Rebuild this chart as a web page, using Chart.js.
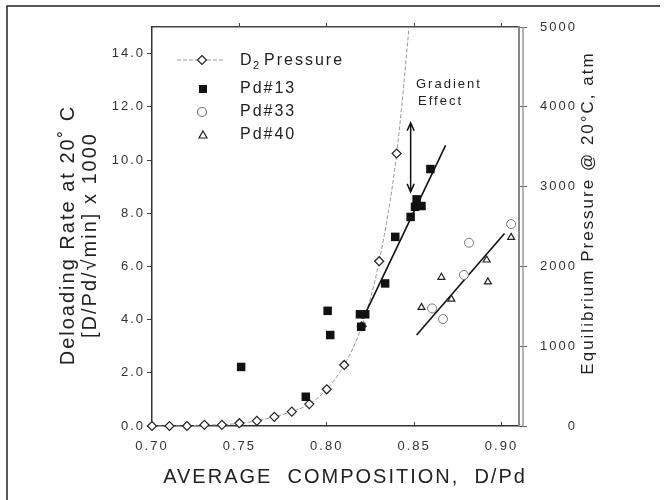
<!DOCTYPE html>
<html lang="en">

<head>
    <meta charset="UTF-8">
    <title>Deloading rate vs composition</title>
    <style>
        body { margin: 0; background: #fff; }
    </style>
</head>

<body>
    <div style="width: 665px; height: 500px;">
        <canvas id="myChart"></canvas>
    </div>

    <script src="https://cdn.jsdelivr.net/npm/chart.js"></script>
    <script>
        // D2 equilibrium pressure (atm, right axis)
        const v_compX = [0.70, 0.71, 0.72, 0.73, 0.74, 0.75, 0.76, 0.77, 0.78, 0.79, 0.80, 0.81, 0.82, 0.83, 0.84, 0.85];
        const v_d2Pressure = [0, 0, 0, 15, 15, 35, 65, 115, 180, 275, 460, 765, 1250, 2065, 3415, 5700];

        // deloading rates (left axis)
        const v_pd13X = [0.751, 0.788, 0.8005, 0.802, 0.819, 0.822, 0.8197, 0.8334, 0.8392, 0.848, 0.8514, 0.8542, 0.8505, 0.8593];
        const v_pd13Y = [2.22, 1.10, 4.33, 3.42, 4.20, 4.20, 3.73, 5.36, 7.11, 7.86, 8.52, 8.27, 8.24, 9.66];
        const v_pd33X = [0.8603, 0.8665, 0.8785, 0.8814, 0.9055];
        const v_pd33Y = [4.42, 4.02, 5.68, 6.89, 7.59];
        const v_pd40X = [0.8542, 0.8656, 0.8713, 0.8915, 0.8922, 0.9055];
        const v_pd40Y = [4.46, 5.59, 4.77, 6.24, 5.42, 7.09];

        // fitted lines
        const v_fit13X = [0.8215, 0.868];
        const v_fit13Y = [4.15, 10.55];
        const v_fit40X = [0.8514, 0.9017];
        const v_fit40Y = [3.42, 7.24];

        // "Gradient Effect" arrow
        const v_arrowX = 0.848;
        const v_arrowY = [8.8, 11.4];

        const v_xTicks = [0.70, 0.75, 0.80, 0.85, 0.90];
        const v_topTicks = [0.75, 0.80, 0.85, 0.90];
        const v_yTicks = [0, 2, 4, 6, 8, 10, 12, 14];
        const v_y2Ticks = [0, 1000, 2000, 3000, 4000, 5000];

        const v_font = "'Liberation Sans', Arial, sans-serif";

        function f_points(xs, ys) {
            let v_out = [];
            for (let i = 0; i < xs.length; i++) {
                v_out.push({ x: xs[i], y: ys[i] });
            }
            return v_out;
        }

        function f_ticks(list) {
            return (scale) => { scale.ticks = list.map(v => ({ value: v })); };
        }

        // legend marker drawing
        function f_marker(c, style, x, y) {
            c.save();
            c.lineWidth = 1.2;
            c.strokeStyle = '#222';
            c.fillStyle = '#fff';
            c.beginPath();
            if (style == 'rectRot') {
                c.moveTo(x, y - 4.5); c.lineTo(x + 4.5, y); c.lineTo(x, y + 4.5); c.lineTo(x - 4.5, y); c.closePath();
                c.fill(); c.stroke();
            } else if (style == 'rect') {
                c.fillStyle = '#111';
                c.fillRect(x - 4, y - 4, 8, 8);
            } else if (style == 'circle') {
                c.strokeStyle = '#777';
                c.arc(x, y, 4.5, 0, Math.PI * 2);
                c.fill(); c.stroke();
            } else {
                c.moveTo(x, y - 4); c.lineTo(x + 4, y + 3); c.lineTo(x - 4, y + 3); c.closePath();
                c.fill(); c.stroke();
            }
            c.restore();
        }

        const v_extras = {
            id: 'extras',
            beforeUpdate(chart) { chart.ctx.letterSpacing = '2px'; },
            beforeDraw(chart) { chart.ctx.letterSpacing = '2px'; },
            afterDraw(chart) {
                const c = chart.ctx;
                const v_x = chart.scales.x;
                const v_y = chart.scales.y;
                const v_y2 = chart.scales.y2;
                const v_area = chart.chartArea;
                c.save();
                c.letterSpacing = '2px';

                // outer frame (left + top)
                c.strokeStyle = '#222';
                c.lineWidth = 1.5;
                c.beginPath();
                c.moveTo(7, 500); c.lineTo(7, 6); c.lineTo(660, 6);
                c.stroke();

                // second line of the right axis
                c.strokeStyle = '#999';
                c.lineWidth = 1.5;
                c.beginPath();
                c.moveTo(v_area.right + 4, v_area.top); c.lineTo(v_area.right + 4, v_area.bottom);
                c.stroke();

                // right axis labels, right aligned
                c.fillStyle = '#333';
                c.font = '13px ' + v_font;
                c.textAlign = 'right';
                c.textBaseline = 'middle';
                for (let i = 0; i < v_y2Ticks.length; i++) {
                    c.fillText(String(v_y2Ticks[i]), 577, v_y2.getPixelForValue(v_y2Ticks[i]));
                }

                // gradient effect arrow
                const ax = v_x.getPixelForValue(v_arrowX);
                const a1 = v_y.getPixelForValue(v_arrowY[0]);
                const a2 = v_y.getPixelForValue(v_arrowY[1]);
                c.strokeStyle = '#111';
                c.lineWidth = 1.5;
                c.beginPath();
                c.moveTo(ax, a1); c.lineTo(ax, a2);
                c.moveTo(ax - 3.5, a2 + 8); c.lineTo(ax, a2); c.lineTo(ax + 3.5, a2 + 8);
                c.moveTo(ax - 3.5, a1 - 8); c.lineTo(ax, a1); c.lineTo(ax + 3.5, a1 - 8);
                c.stroke();

                c.fillStyle = '#222';
                c.textAlign = 'left';
                c.font = '13px ' + v_font;
                c.fillText('Gradient', 416, 84);
                c.fillText('Effect', 418, 101);

                // legend
                c.strokeStyle = '#999';
                c.lineWidth = 1;
                c.setLineDash([4, 2]);
                c.beginPath();
                c.moveTo(177, 60); c.lineTo(225, 60);
                c.stroke();
                c.setLineDash([]);
                f_marker(c, 'rectRot', 202, 60);
                f_marker(c, 'rect', 203, 89);
                f_marker(c, 'circle', 202, 112);
                f_marker(c, 'triangle', 203, 135);
                c.fillStyle = '#222';
                c.font = '16px ' + v_font;
                c.fillText('D', 240, 61);
                c.font = '11px ' + v_font;
                c.fillText('2', 253, 66);
                c.font = '16px ' + v_font;
                c.fillText('Pressure', 264, 61);
                c.fillText('Pd#13', 240, 89);
                c.fillText('Pd#33', 240, 112);
                c.fillText('Pd#40', 240, 135);

                // axis titles
                c.textAlign = 'center';
                c.font = '20px ' + v_font;
                c.fillText('AVERAGE  COMPOSITION,  D/Pd', 345, 477);

                c.save();
                c.translate(68, 235);
                c.rotate(-Math.PI / 2);
                c.fillText('Deloading Rate at 20\u02da C', 0, 0);
                c.fillText('[D/Pd/\u221Amin] x 1000', 0, 22);
                c.restore();

                c.save();
                c.font = '17px ' + v_font;
                c.translate(588, 213);
                c.rotate(-Math.PI / 2);
                c.fillText('Equilibrium Pressure @ 20\u00B0C, atm', 0, 0);
                c.restore();

                c.restore();
            }
        };

        Chart.defaults.font.family = v_font;
        Chart.defaults.font.size = 13;
        Chart.defaults.color = '#333';

        const ctx = document.querySelector("#myChart");
        new Chart(ctx, {
            type: 'scatter',
            data: {
                datasets: [{
                    label: 'D2 Pressure',
                    type: 'line',
                    data: f_points(v_compX, v_d2Pressure),
                    yAxisID: 'y2',
                    borderColor: '#999',
                    borderWidth: 1,
                    borderDash: [4, 2],
                    cubicInterpolationMode: 'monotone',
                    pointStyle: 'rectRot',
                    pointRadius: 4.5,
                    pointBorderWidth: 1.2,
                    pointBorderColor: '#222',
                    pointBackgroundColor: '#fff',
                    clip: { left: 6, right: 0, top: 0, bottom: 6 },
                    order: 5
                }, {
                    label: 'fit13',
                    type: 'line',
                    data: f_points(v_fit13X, v_fit13Y),
                    borderColor: '#111',
                    borderWidth: 1.6,
                    pointRadius: 0,
                    order: 4
                }, {
                    label: 'fit40',
                    type: 'line',
                    data: f_points(v_fit40X, v_fit40Y),
                    borderColor: '#111',
                    borderWidth: 1.6,
                    pointRadius: 0,
                    order: 4
                }, {
                    label: 'Pd#33',
                    data: f_points(v_pd33X, v_pd33Y),
                    pointStyle: 'circle',
                    pointRadius: 4.5,
                    pointBorderWidth: 1,
                    pointBorderColor: '#777',
                    pointBackgroundColor: '#fff',
                    order: 3
                }, {
                    label: 'Pd#40',
                    data: f_points(v_pd40X, v_pd40Y),
                    pointStyle: 'triangle',
                    pointRadius: 4,
                    pointBorderWidth: 1.2,
                    pointBorderColor: '#222',
                    pointBackgroundColor: '#fff',
                    order: 2
                }, {
                    label: 'Pd#13',
                    data: f_points(v_pd13X, v_pd13Y),
                    pointStyle: 'rect',
                    pointRadius: 6,
                    pointBorderWidth: 0,
                    pointBackgroundColor: '#111',
                    order: 1
                }]
            },
            options: {
                responsive: true,
                maintainAspectRatio: false,
                animation: false,
                layout: { padding: 0 },
                plugins: {
                    legend: { display: false },
                    tooltip: { enabled: false }
                },
                scales: {
                    x: {
                        type: 'linear',
                        position: 'bottom',
                        min: 0.70,
                        max: 0.91,
                        afterBuildTicks: f_ticks(v_xTicks),
                        afterFit: (s) => { s.height = 74; },
                        ticks: { padding: 17, callback: (v) => v.toFixed(2) },
                        grid: { drawOnChartArea: false, tickLength: -4, color: '#444' },
                        border: { color: '#333', width: 1.5 }
                    },
                    x2: {
                        type: 'linear',
                        position: 'top',
                        min: 0.70,
                        max: 0.91,
                        afterBuildTicks: f_ticks(v_topTicks),
                        afterFit: (s) => { s.height = 27; },
                        ticks: { display: false },
                        grid: { drawOnChartArea: false, tickLength: 4, color: '#444' },
                        border: { color: '#444', width: 1.5 }
                    },
                    y: {
                        position: 'left',
                        min: 0,
                        max: 15,
                        afterBuildTicks: f_ticks(v_yTicks),
                        afterFit: (s) => { s.width = 152; },
                        ticks: { padding: 2, callback: (v) => v.toFixed(1) },
                        grid: { drawOnChartArea: false, tickLength: 5, color: '#444' },
                        border: { color: '#333', width: 1.5 }
                    },
                    y2: {
                        position: 'right',
                        min: 0,
                        max: 5000,
                        afterBuildTicks: f_ticks(v_y2Ticks),
                        afterFit: (s) => { s.width = 146; },
                        ticks: { display: false },
                        grid: { drawOnChartArea: false, tickLength: 8, color: '#666' },
                        border: { color: '#888', width: 2 }
                    }
                }
            },
            plugins: [v_extras]
        });
    </script>

</body>

</html>
